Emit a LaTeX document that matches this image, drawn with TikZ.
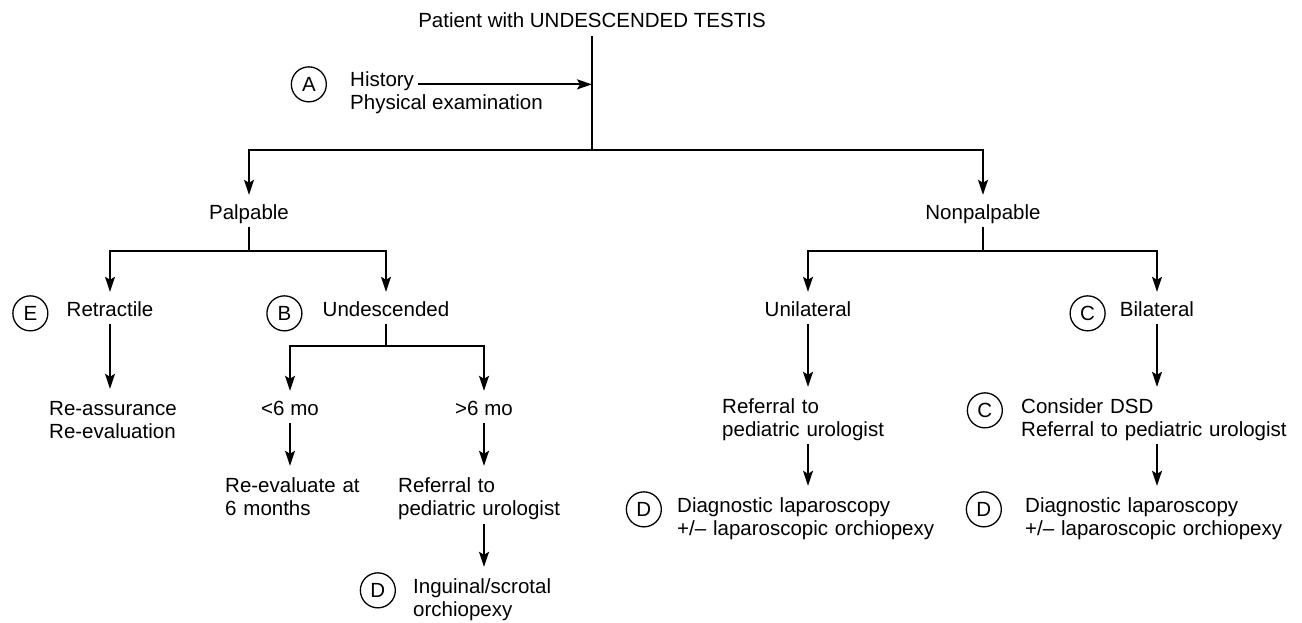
\documentclass[tikz,border=0pt]{standalone}
\usepackage{fontspec}
\setmainfont{Liberation Sans}
\usetikzlibrary{arrows.meta,positioning}

\begin{document}
\begin{tikzpicture}[x=1pt,y=-1pt,
    every node/.style={font=\fontsize{20.5}{23}\selectfont, inner sep=0pt},
    lbl/.style={text height=24pt, text depth=8pt},
    note/.style={align=left, text width=#1, text height=26pt},
    tag/.style={circle, draw, line width=1.3pt, minimum size=35pt},
    link/.style={line width=1.8pt},
    arr/.style={link, -{Stealth[length=15pt,width=10pt,inset=3pt]}}]
\useasboundingbox (0,0) rectangle (1302,623);

% top of the tree
\node[lbl, anchor=base] (patient) at (592,28) {Patient with UNDESCENDED TESTIS};
\coordinate (split) at (592,150);
\draw[link] (patient) -- (split);
\node[anchor=base west] (hist) at (350,87) {History};
\node[anchor=base west] (exam) at ([yshift=-23pt]hist.base west) {Physical examination};
\node[tag, left=23pt of hist.mid west] (tagA) {A};
\draw[arr, shorten <=4pt] (hist.mid east) -- (hist.mid east -| split);

\node[lbl, anchor=base] (palp) at (249,219) {Palpable};
\node[lbl, anchor=base] (nonpalp) at (983,219) {Nonpalpable};
\draw[arr] (split) -| (palp);
\draw[arr] (split) -| (nonpalp);

% palpable branch
\coordinate (palpjoin) at (249,251);
\draw[link] (palp) -- (palpjoin);
\node[lbl, anchor=base] (retract) at (110,316) {Retractile};
\node[lbl, anchor=base] (undesc) at (386,316) {Undescended};
\draw[arr] (palpjoin) -| (retract);
\draw[arr] (palpjoin) -| (undesc);
\node[tag, left=18pt of retract.mid west] (tagE) {E};
\node[tag, left=20pt of undesc.mid west] (tagB) {B};

\node[note=150pt, anchor=base west] (reassure) at (49,415) {Re-assurance\\Re-evaluation};
\draw[arr] (retract) -- (retract |- reassure.north);

\coordinate (undescjoin) at (386,346);
\draw[link] (undesc) -- (undescjoin);
\node[lbl, anchor=base] (young) at (290,415) {<6 mo};
\node[lbl, anchor=base] (older) at (484,415) {>6 mo};
\draw[arr] (undescjoin) -| (young);
\draw[arr] (undescjoin) -| (older);

\node[note=150pt, anchor=base west] (reeval) at (225,492) {Re-evaluate at\\6 months};
\draw[arr] (young) -- (young |- reeval.north);
\node[note=190pt, anchor=base west] (referL) at (398,492) {Referral to\\pediatric urologist};
\draw[arr] (older) -- (older |- referL.north);
\node[note=160pt, anchor=base west] (orchio) at (413,593) {Inguinal/scrotal\\orchiopexy};
\draw[arr, shorten <=5pt] (referL.south -| older) -- (older |- orchio.north);
\node[tag, left=17pt of orchio.mid west] (tagD1) {D};

% nonpalpable branch
\coordinate (nonpalpjoin) at (983,251);
\draw[link] (nonpalp) -- (nonpalpjoin);
\node[lbl, anchor=base] (uni) at (808,316) {Unilateral};
\node[lbl, anchor=base] (bi) at (1157,316) {Bilateral};
\draw[arr] (nonpalpjoin) -| (uni);
\draw[arr] (nonpalpjoin) -| (bi);
\node[tag, left=14pt of bi.mid west] (tagC1) {C};

\node[note=190pt, anchor=base west] (referR) at (722,413) {Referral to\\pediatric urologist};
\draw[arr] (uni) -- (uni |- referR.north);
\node[note=290pt, anchor=base west] (dsd) at (1021,413) {Consider DSD\\Referral to pediatric urologist};
\draw[arr] (bi) -- (bi |- dsd.north);
\node[tag, left=18pt of dsd.mid west] (tagC2) {C};

\node[note=270pt, anchor=base west] (lapL) at (677,512) {Diagnostic laparoscopy\\+/-- laparoscopic orchiopexy};
\draw[arr, shorten <=4pt] (referR.south -| uni) -- (uni |- lapL.north);
\node[tag, left=15pt of lapL.mid west] (tagD2) {D};
\node[note=270pt, anchor=base west] (lapR) at (1025,512) {Diagnostic laparoscopy\\+/-- laparoscopic orchiopexy};
\draw[arr, shorten <=4pt] (dsd.south -| bi) -- (bi |- lapR.north);
\node[tag, left=23pt of lapR.mid west] (tagD3) {D};
\end{tikzpicture}
\end{document}
